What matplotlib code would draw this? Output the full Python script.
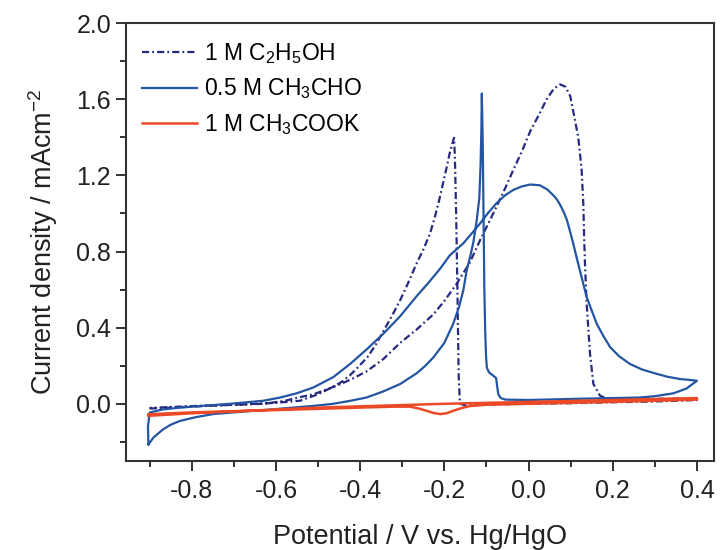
import numpy as np
import matplotlib
matplotlib.use('Agg')
import matplotlib.pyplot as plt
from matplotlib.ticker import MultipleLocator

plt.rcParams['font.family'] = ['Liberation Sans', 'DejaVu Sans']
plt.rcParams['mathtext.fontset'] = 'custom'
plt.rcParams['mathtext.rm'] = 'Liberation Sans'
plt.rcParams['mathtext.it'] = 'Liberation Sans'
plt.rcParams['mathtext.default'] = 'regular'

# 1 M C2H5OH: anodic scan then cathodic scan
etoh_fwd_x = [-0.90, -0.80, -0.70, -0.63, -0.58, -0.543, -0.511, -0.48, -0.45, -0.42,
              -0.385, -0.345, -0.305, -0.266, -0.226, -0.20, -0.171, -0.14, -0.115, -0.095,
              -0.076, -0.055, -0.036, -0.015, 0.004, 0.025, 0.043, 0.06, 0.075, 0.088,
              0.099, 0.11, 0.118, 0.122, 0.126, 0.13, 0.132, 0.134, 0.138, 0.146,
              0.154, 0.17, 0.186, 0.25, 0.33, 0.40]
etoh_fwd_y = [-0.025, -0.015, -0.005, 0.0, 0.015, 0.035, 0.05, 0.075, 0.10, 0.13,
              0.17, 0.235, 0.32, 0.39, 0.47, 0.54, 0.63, 0.74, 0.86, 0.95,
              1.036, 1.135, 1.23, 1.33, 1.432, 1.52, 1.60, 1.655, 1.678, 1.665,
              1.616, 1.493, 1.40, 1.318, 1.23, 1.054, 0.878, 0.737, 0.526, 0.262,
              0.104, 0.042, 0.028, 0.025, 0.027, 0.03]
etoh_rev_x = [0.40, 0.30, 0.20, 0.10, 0.00, -0.10, -0.15, -0.163, -0.166, -0.169,
              -0.172, -0.175, -0.177, -0.182, -0.188, -0.194, -0.204, -0.214, -0.224, -0.234,
              -0.25, -0.266, -0.285, -0.305, -0.325, -0.344, -0.363, -0.383, -0.404, -0.424,
              -0.444, -0.464, -0.50, -0.543, -0.60, -0.70, -0.80, -0.90]
etoh_rev_y = [0.02, 0.012, 0.008, 0.003, 0.0, -0.004, -0.008, 0.0, 0.15, 0.6,
              1.0, 1.3, 1.397, 1.36, 1.31, 1.247, 1.15, 1.054, 0.97, 0.895,
              0.81, 0.737, 0.64, 0.544, 0.46, 0.385, 0.31, 0.244, 0.195, 0.15,
              0.115, 0.09, 0.05, 0.016, 0.005, -0.005, -0.012, -0.022]

# 0.5 M CH3CHO
ald_fwd_x = [-0.903, -0.89, -0.868, -0.85, -0.828, -0.79, -0.749, -0.70, -0.63, -0.57,
             -0.511, -0.464, -0.425, -0.385, -0.345, -0.305, -0.266, -0.245, -0.226, -0.20,
             -0.179, -0.165, -0.155, -0.147, -0.138, -0.131, -0.123, -0.117, -0.114, -0.112,
             -0.111, -0.109, -0.107, -0.105, -0.103, -0.101, -0.099, -0.094, -0.084, -0.077,
             -0.075, -0.072, -0.066, -0.055, 0.0, 0.11, 0.20, 0.265, 0.30, 0.344,
             0.375, 0.40]
ald_fwd_y = [-0.213, -0.175, -0.134, -0.11, -0.09, -0.07, -0.054, -0.045, -0.033, -0.022,
             -0.011, 0.0, 0.015, 0.033, 0.065, 0.104, 0.16, 0.20, 0.244, 0.32,
             0.42, 0.51, 0.596, 0.70, 0.78, 0.85, 0.966, 1.08, 1.25, 1.45,
             1.63, 1.40, 1.0, 0.6, 0.385, 0.25, 0.19, 0.165, 0.148, 0.135,
             0.10, 0.051, 0.03, 0.022, 0.02, 0.026, 0.03, 0.033, 0.04, 0.055,
             0.08, 0.121]
ald_rev_x = [0.40, 0.38, 0.36, 0.33, 0.305, 0.27, 0.241, 0.215, 0.194, 0.178,
             0.162, 0.15, 0.138, 0.13, 0.122, 0.114, 0.106, 0.098, 0.091, 0.083,
             0.075, 0.067, 0.059, 0.045, 0.027, 0.004, -0.016, -0.036, -0.056, -0.076,
             -0.096, -0.115, -0.135, -0.155, -0.187, -0.21, -0.24, -0.266, -0.305, -0.345,
             -0.385, -0.424, -0.464, -0.511, -0.551, -0.59, -0.63, -0.709, -0.77, -0.828,
             -0.87, -0.90, -0.904, -0.903]
ald_rev_y = [0.121, 0.126, 0.13, 0.142, 0.157, 0.18, 0.209, 0.25, 0.297, 0.355,
             0.42, 0.49, 0.561, 0.63, 0.70, 0.77, 0.843, 0.91, 0.966, 1.01,
             1.045, 1.075, 1.095, 1.125, 1.148, 1.152, 1.142, 1.124, 1.095, 1.054,
             1.003, 0.948, 0.895, 0.843, 0.78, 0.71, 0.63, 0.565, 0.46, 0.368,
             0.285, 0.209, 0.14, 0.086, 0.055, 0.033, 0.016, 0.0, -0.01, -0.02,
             -0.03, -0.046, -0.12, -0.213]

# 1 M CH3COOK
ac_fwd_x = [-0.903, -0.80, -0.70, -0.60, -0.50, -0.35, -0.20, 0.00, 0.20, 0.40]
ac_fwd_y = [-0.063, -0.05, -0.04, -0.03, -0.02, -0.01, 0.0, 0.01, 0.02, 0.03]
ac_rev_x = [0.40, 0.20, 0.00, -0.10, -0.14, -0.155, -0.167, -0.179, -0.195, -0.21,
            -0.226, -0.242, -0.262, -0.282, -0.32, -0.40, -0.60, -0.80, -0.903]
ac_rev_y = [0.022, 0.01, 0.0, -0.005, -0.012, -0.02, -0.028, -0.037, -0.05, -0.054,
            -0.048, -0.037, -0.024, -0.015, -0.015, -0.02, -0.033, -0.045, -0.055]

labels = [r'1 M C$_2$H$_5$OH', r'0.5 M CH$_3$CHO', r'1 M CH$_3$COOK']
colors = ['#272a7e', '#2455a3', '#ec4a27']

fig = plt.figure(figsize=(7.21, 5.5), dpi=100)
ax = fig.add_axes([0.1743, 0.162, 0.8157, 0.796])

ax.plot(etoh_fwd_x + etoh_rev_x, etoh_fwd_y + etoh_rev_y, color=colors[0], lw=1.6,
        linestyle=(0, (3.2, 1.4, 0.8, 1.4)), label=labels[0])
ax.plot(ald_fwd_x + ald_rev_x, ald_fwd_y + ald_rev_y, color=colors[1], lw=1.6, label=labels[1])
ax.plot(ac_fwd_x + ac_rev_x, ac_fwd_y + ac_rev_y, color=colors[2], lw=1.8, label=labels[2])

ax.set_xlim(-0.957, 0.44)
ax.set_ylim(-0.3, 2.0)
ax.xaxis.set_minor_locator(MultipleLocator(0.1))
ax.yaxis.set_minor_locator(MultipleLocator(0.2))
ax.set_xticks(np.arange(-0.8, 0.41, 0.2))
ax.set_xticklabels(['-0.8', '-0.6', '-0.4', '-0.2', '0.0', '0.2', '0.4'])
ax.set_yticks(np.arange(0.0, 2.01, 0.4))
ax.set_yticklabels(['0.0', '0.4', '0.8', '1.2', '1.6', '2.0'])

ax.tick_params(which='major', direction='out', length=7, width=1.3, labelsize=18, colors='#222222')
ax.tick_params(which='minor', direction='out', length=4, width=1.3, colors='#222222')
ax.tick_params(axis='x', pad=6)
for s in ax.spines.values():
    s.set_linewidth(1.5)
    s.set_color('#333333')

ax.set_xlabel('Potential / V vs. Hg/HgO', fontsize=19.5, labelpad=15, color='#222222')
ax.set_ylabel('Current density / mAcm$^{-2}$', fontsize=19.5, labelpad=12, color='#222222')

ax.legend(loc='upper left', bbox_to_anchor=(0.0, 0.995), frameon=False, fontsize=16.5,
          handlelength=2.4, handletextpad=0.3, labelspacing=0.45, borderaxespad=0.3)

fig.savefig('out.png', dpi=100)
